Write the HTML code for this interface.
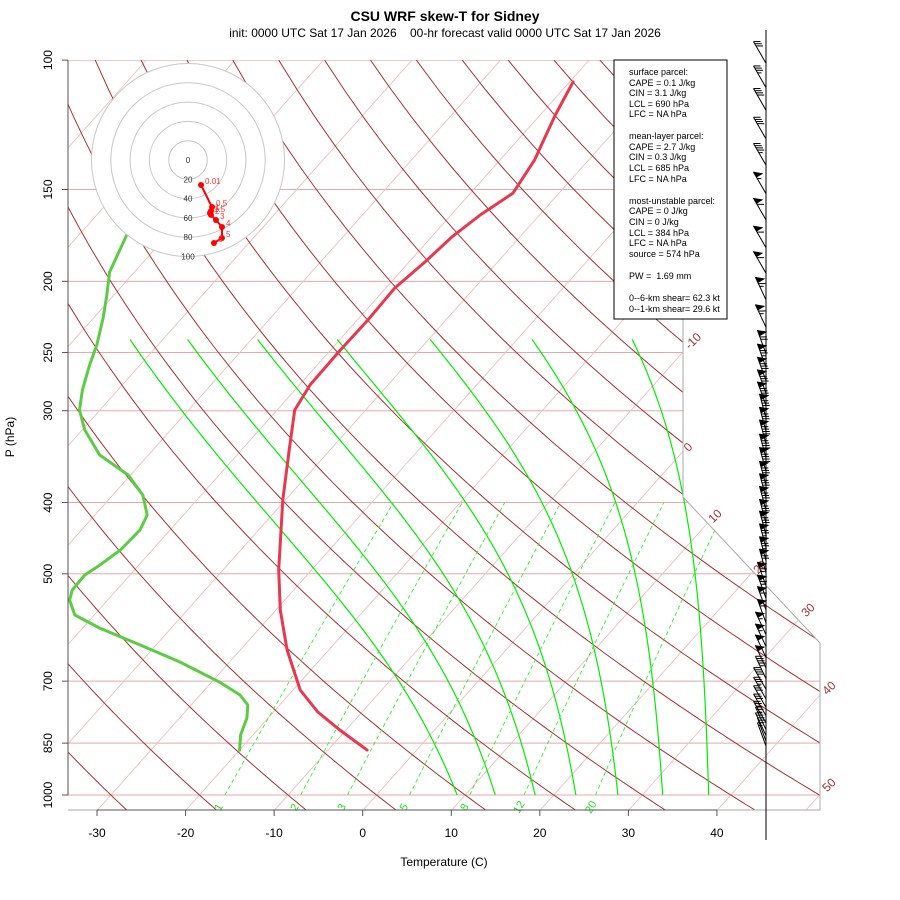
<!DOCTYPE html>
<html><head><meta charset="utf-8"><title>CSU WRF skew-T for Sidney</title>
<style>
html,body{margin:0;padding:0;background:#fff;}
svg{display:block;font-family:"Liberation Sans",sans-serif;}
</style></head>
<body>
<svg id="chart" width="900" height="900" viewBox="0 0 900 900" xmlns="http://www.w3.org/2000/svg">
<defs>
<clipPath id="plotclip"><polygon points="68,60 683,60 683,497 820,643 820,810 68,810"/></clipPath>
</defs>
<rect x="0" y="0" width="900" height="900" fill="#fff"/>
<text x="445" y="21" text-anchor="middle" font-size="14" font-weight="bold">CSU WRF skew-T for Sidney</text>
<text x="445" y="37" text-anchor="middle" font-size="12" xml:space="preserve">init: 0000 UTC Sat 17 Jan 2026&#160;&#160;&#160;&#160;00-hr forecast valid 0000 UTC Sat 17 Jan 2026</text>
<g id="grid" clip-path="url(#plotclip)"></g>
<polyline points="683,60 683,497 820,643 820,810 68,810" fill="none" stroke="#aaa" stroke-width="1"/>
<g id="labels"></g>
<g id="profiles" clip-path="url(#plotclip)"></g>
<g id="axes"></g>
<line x1="766" y1="30" x2="766" y2="840" stroke="#000" stroke-width="1"/>
<g id="barbs"></g>
<g id="hodo"></g>
<g font-size="9">
<rect x="614" y="60" width="113" height="259" fill="#fff" stroke="#000" stroke-width="1"/>
<text x="629" y="75">surface parcel:</text>
<text x="629" y="86">CAPE = 0.1 J/kg</text>
<text x="629" y="96">CIN = 3.1 J/kg</text>
<text x="629" y="107">LCL = 690 hPa</text>
<text x="629" y="117">LFC = NA hPa</text>
<text x="629" y="139">mean-layer parcel:</text>
<text x="629" y="150">CAPE = 2.7 J/kg</text>
<text x="629" y="160">CIN = 0.3 J/kg</text>
<text x="629" y="171">LCL = 685 hPa</text>
<text x="629" y="182">LFC = NA hPa</text>
<text x="629" y="204">most-unstable parcel:</text>
<text x="629" y="214">CAPE = 0 J/kg</text>
<text x="629" y="225">CIN = 0 J/kg</text>
<text x="629" y="236">LCL = 384 hPa</text>
<text x="629" y="246">LFC = NA hPa</text>
<text x="629" y="257">source = 574 hPa</text>
<text x="629" y="279" xml:space="preserve">PW =  1.69 mm</text>
<text x="629" y="301">0--6-km shear= 62.3 kt</text>
<text x="629" y="312">0--1-km shear= 29.6 kt</text>
</g>
<text x="444" y="866" text-anchor="middle" font-size="12">Temperature (C)</text>
<text x="14" y="437" text-anchor="middle" font-size="12" transform="rotate(-90 14 437)">P (hPa)</text>
</svg>
<script>
// ---- data ----
const tempP = [868.6,815.6,770.9,719.6,634.9,560.2,494.2,396.7,339.3,299.4,276.8,248.0,225.8,204.2,188.2,174.1,162.5,151.7,136.8,118.8,107.1];
const tempC = [-5.6,-10.7,-15.0,-19.2,-24.7,-29.5,-33.7,-40.3,-44.6,-48.0,-48.8,-48.9,-48.8,-49.0,-48.2,-47.7,-46.7,-45.2,-46.1,-48.3,-49.6];
const dewP = [868.6,828.6,785.6,754.3,730.9,702.0,659.2,625.0,592.6,569.0,542.9,526.2,501.9,486.4,464.1,435.9,415.9,390.7,366.8,344.6,318.7,299.4,281.1,260.0,244.2,224.4,208.8,194.3,173.0,160.0];
const dewC = [-20.0,-21.4,-22.4,-23.6,-25.5,-29.1,-35.6,-41.8,-48.1,-52.2,-54.3,-55.0,-55.1,-54.4,-53.6,-53.4,-54.1,-56.6,-60.3,-65.5,-69.7,-72.3,-74.0,-75.7,-76.9,-78.9,-80.8,-82.8,-84.6,-86.0];
const pressureTicks = [100,150,200,250,300,400,500,700,850,1000];
const tempTicks = [-30,-20,-10,0,10,20,30,40];
const mixRatios = [1,2,3,5,8,12,20];
const moistStartC = [9.1,13.4,17.9,22.5,27.25,32.3,37.5];
const moistTopC = [-73.7,-67.2,-59.3,-50.3,-39.8,-28.3,-17.0];
const isoLabelT = [-10,0,10,20,30,40,50];
const isoLabelX = [693,688,715,760,808,829,829];
const isoLabelY = [341,447,516,567,610,688,785];
const barbP = [101,109,117,128,139,152,165,180,195,212,231,251,262,273,284,295,307,320,333,348,363,379,394,410,427,443,461,480,499,519,540,560,583,605,628,650,672,695,718,740,760,780,798,815,830,845,858];
const barbSpd = [30,35,40,40,45,55,60,60,60,65,65,70,75,80,80,85,85,85,90,90,90,85,85,85,80,80,75,75,70,65,65,60,60,55,55,50,50,45,40,35,30,30,25,25,20,20,15];
const barbDir = [330,330,330,330,330,330,330,330,330,335,335,340,340,340,340,340,345,345,345,345,345,345,345,345,345,345,345,345,345,340,340,340,340,335,335,335,335,335,330,330,330,330,330,335,335,340,340];
const hodoLabels = ["0.01","0.5","1","1.5","2","3","4","5","6"];
const hodoU = [13.5,24.9,23.8,22.8,23.8,29.0,35.2,35.2,26.9];
const hodoV = [-25.9,-48.7,-52.8,-54.9,-56.9,-62.2,-69.4,-80.8,-86.0];
const hodoRings = [20,40,60,80,100];

// ---- axis functions ----
const NS="http://www.w3.org/2000/svg";
function yd(p){return 132.182-44.061*Math.log10(p);}
function Y(p){return 795-16.68*yd(p);}
function X(T,p){return 376.6+16.4*(0.54*T+0.90692*yd(p));}
function mk(tag,attrs,parent){const e=document.createElementNS(NS,tag);for(const k in attrs)e.setAttribute(k,attrs[k]);parent.appendChild(e);return e;}
function pts(arr){return arr.map(a=>a[0].toFixed(1)+","+a[1].toFixed(1)).join(" ");}
const grid=document.getElementById('grid');
const labels=document.getElementById('labels');
const prof=document.getElementById('profiles');
const axes=document.getElementById('axes');
const barbs=document.getElementById('barbs');
const hodo=document.getElementById('hodo');

pressureTicks.forEach(p=>{
  const l=mk('line',{x1:68,x2:820,y1:Y(p),y2:Y(p),stroke:'#e3aaaa','stroke-width':1},grid);
  
  
});
for(let T=-120;T<=50;T+=10){
  const l=mk('line',{x1:X(T,1050),y1:Y(1050),x2:X(T,100),y2:Y(100),stroke:'#ecc0c0','stroke-width':0.9},grid);
  
  
}
for(let th=-40;th<=200;th+=10){
  const a=[];for(let p=1050;p>=100;p-=10){const T=(th+273.15)*Math.pow(p/1000,0.2857)-273.15;a.push([X(T,p),Y(p)]);}
  const l=mk('polyline',{points:pts(a),fill:'none',stroke:'#a83232','stroke-width':1},grid);
  
  
}
function moist(T0,k,keep){
  let Tk=T0+273.15;const a=[[X(T0,1000),Y(1000)]];const Lv=2.5e6*k;
  for(let p=1000;p>240;p-=2){
    const Tc=Tk-273.15;const es=6.112*Math.exp(17.67*Tc/(Tc+243.5));const rs=0.622*es/(p-es);
    const d=(287*Tk+Lv*rs)/(p*(1005+Lv*Lv*rs*0.622/(287*Tk*Tk)));
    Tk-=d*2;if(keep)a.push([X(Tk-273.15,p-2),Y(p-2)]);
  }
  return keep?a:Tk-273.15;
}
moistStartC.forEach((T0,i)=>{
  let lo=0,hi=1.6;
  for(let it=0;it<40;it++){const m=(lo+hi)/2;if(moist(T0,m,false) < moistTopC[i])lo=m;else hi=m;}
  const a=moist(T0,(lo+hi)/2,true);
  const l=mk('polyline',{points:pts(a),fill:'none',stroke:'#00ee00','stroke-width':1.2},grid);
  
  
});
function tdw(w,p){const e=(w/1000)*p/(0.622+w/1000);const l=Math.log(e/6.112);return 243.5*l/(17.67-l);}
mixRatios.forEach(w=>{
  const a=[];for(let p=1000;p>=400;p-=10)a.push([X(tdw(w,p),p),Y(p)]);
  const l=mk('polyline',{points:pts(a),fill:'none',stroke:'#33ee33','stroke-width':0.9,'stroke-dasharray':'4,3'},grid);
  
  
  const lx=X(tdw(w,1038),1038),ly=Y(1038);
  const t=mk('text',{x:lx,y:ly+4,'font-size':11,fill:'#22dd22','text-anchor':'middle',transform:`rotate(-60 ${lx} ${ly})`},labels);
  t.textContent=String(w);
  
  
});
isoLabelT.forEach((T,i)=>{
  const t=mk('text',{x:isoLabelX[i],y:isoLabelY[i]+4,'font-size':12,fill:'#a83232','text-anchor':'middle',transform:`rotate(-45 ${isoLabelX[i]} ${isoLabelY[i]})`},labels);
  t.textContent=String(T);
  
  
});
{
  const l=mk('polyline',{points:pts(dewP.map((p,i)=>[X(dewC[i],p),Y(p)])),fill:'none',stroke:'#5ccc44','stroke-width':3,'stroke-linejoin':'round','stroke-linecap':'round'},prof);
  
  
  const t=mk('polyline',{points:pts(tempP.map((p,i)=>[X(tempC[i],p),Y(p)])),fill:'none',stroke:'#e8384f','stroke-width':3,'stroke-linejoin':'round','stroke-linecap':'round'},prof);
  
  
}
pressureTicks.forEach(p=>{
  const y=Y(p);
  const tk=mk('line',{x1:62,x2:68,y1:y,y2:y,stroke:'#555'},axes);
  
  
  const t=mk('text',{x:48,y:y+4,'font-size':12,'text-anchor':'middle',transform:`rotate(-90 48 ${y})`},axes);
  t.textContent=String(p);
  
  
});
mk('line',{x1:68,x2:68,y1:Y(100),y2:Y(1000),stroke:'#555'},axes);
mk('line',{x1:X(-30,1050),x2:X(40,1050),y1:810,y2:810,stroke:'#555'},axes);
tempTicks.forEach(T=>{
  const x=X(T,1050);
  const tk=mk('line',{x1:x,x2:x,y1:810,y2:816,stroke:'#555'},axes);
  
  
  const t=mk('text',{x:x,y:837,'font-size':12,'text-anchor':'middle'},axes);
  t.textContent=String(T);
  
  
});
barbP.forEach((p,i)=>{
  const g=mk('g',{},barbs);
  
  
  const bx=766,by=Y(p),L=25,d=barbDir[i]*Math.PI/180;
  const ux=Math.sin(d),uy=-Math.cos(d);
  const tx=bx+ux*L,ty=by+uy*L;
  mk('line',{x1:bx,y1:by,x2:tx,y2:ty,stroke:'#000','stroke-width':1},g);
  let s=Math.round(barbSpd[i]/5)*5,pos=0;
  while(s>=50){
    const ax=tx-ux*pos,ay=ty-uy*pos;
    mk('polygon',{points:`${ax},${ay} ${ax-ux*6},${ay-uy*6} ${ax+9},${ay+1.5}`,fill:'#000',stroke:'#000','stroke-width':0.6},g);
    pos+=7;s-=50;
  }
  while(s>=10){
    const ax=tx-ux*pos,ay=ty-uy*pos;
    mk('line',{x1:ax,y1:ay,x2:ax+7,y2:ay,stroke:'#000','stroke-width':1},g);
    pos+=2.5;s-=10;
  }
  if(s>=5){
    const ax=tx-ux*(pos+0.5),ay=ty-uy*(pos+0.5);
    mk('line',{x1:ax,y1:ay,x2:ax+4,y2:ay,stroke:'#000','stroke-width':1},g);
  }
});
const hc=[188,160],hk=19.3/20;
mk('circle',{cx:hc[0],cy:hc[1],r:100*hk,fill:'#fff',stroke:'none'},hodo);
hodoRings.forEach(r=>{
  const c=mk('circle',{cx:hc[0],cy:hc[1],r:r*hk,fill:'none',stroke:'#c8c8c8','stroke-width':1},hodo);
  
  
});
[0].concat(hodoRings).forEach(r=>{
  const t=mk('text',{x:hc[0],y:hc[1]+r*hk+3,'font-size':8,'text-anchor':'middle',fill:'#333'},hodo);
  t.textContent=String(r);
  
  
});
{
  const hl=mk('polyline',{points:pts(hodoU.map((u,i)=>[hc[0]+u*hk,hc[1]-hodoV[i]*hk])),fill:'none',stroke:'#f00','stroke-width':2},hodo);
  
  
  hodoU.forEach((u,i)=>{
    const x=hc[0]+u*hk,y=hc[1]-hodoV[i]*hk;
    const c=mk('circle',{cx:x,cy:y,r:3,fill:'#f00'},hodo);
    
    
    const t=mk('text',{x:x+4,y:y-1,'font-size':8,fill:'#f33'},hodo);
    t.textContent=hodoLabels[i];
    
    
  });
}
</script>
</body></html>
